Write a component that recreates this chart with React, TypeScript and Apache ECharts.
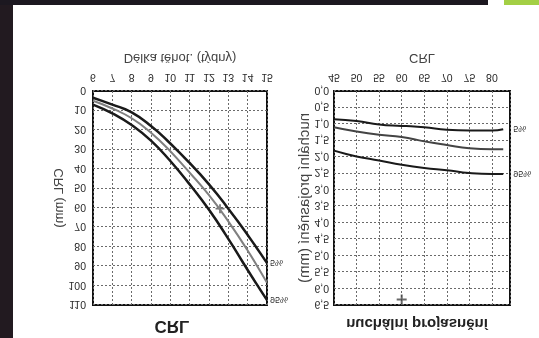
import React, { useEffect, useRef } from "react";
import * as echarts from "echarts";

// Left chart: CRL vs gestational age (weeks)
const weeks = [6, 7, 8, 9, 10, 11, 12, 13, 14, 15];
const crlP5 = [3.5, 7, 11, 18, 27, 37, 48, 60.5, 74, 88.5];
const crlP50 = [5, 9, 14, 21.5, 31, 42, 53.5, 67, 82, 98.5];
const crlP95 = [7, 11.5, 17.5, 25.5, 36, 48, 61, 76, 92, 107.5];
const crlMeasured = [[12.57, 60.5]];

// Right chart: nuchal translucency vs CRL
const crlValues = [45, 50, 55, 60, 65, 70, 75, 80, 82.5];
const ntP5 = [0.86, 0.91, 1.02, 1.06, 1.1, 1.18, 1.2, 1.2, 1.16];
const ntP50 = [1.1, 1.23, 1.33, 1.4, 1.53, 1.64, 1.74, 1.77, 1.77];
const ntP95 = [1.81, 1.99, 2.11, 2.24, 2.34, 2.41, 2.49, 2.52, 2.52];
const ntMeasured = [[60, 6.33]];

const FONT = "'Liberation Sans', Arial, sans-serif";
const zip = (xs: number[], ys: number[]) => xs.map((x, i) => [x, ys[i]]);
const PLUS = "path://M4,0H6V4H10V6H6V10H4V6H0V4H4Z";

export default function App() {
  const ref = useRef<HTMLDivElement>(null);
  useEffect(() => {
    if (!ref.current) return;
    const chart = echarts.init(ref.current, null, { renderer: "svg" });
    const split = { show: true, lineStyle: { color: "#6a6a6a", type: [2, 2] as any, width: 1 } };
    const lbl = { color: "#2a2a2a", fontSize: 10.5, fontFamily: FONT };
    const nameStyle = { color: "#444", fontSize: 13, fontFamily: FONT };
    const endLbl = (t: string) => ({
      show: true,
      formatter: t,
      fontSize: 9,
      color: "#333",
      fontFamily: FONT,
      distance: 3,
    });
    chart.setOption({
      animation: false,
      backgroundColor: "#ffffff",
      grid: [
        { left: 93, top: 33, width: 174, height: 214, show: true, borderColor: "#111", borderWidth: 2, backgroundColor: "transparent" },
        { left: 334, top: 33, width: 176, height: 214, show: true, borderColor: "#111", borderWidth: 2, backgroundColor: "transparent" },
      ],
      xAxis: [
        {
          gridIndex: 0, type: "value", min: 6, max: 15, interval: 1,
          axisLine: { show: false }, axisTick: { show: false },
          axisLabel: { ...lbl, margin: 7 }, splitLine: split,
          name: "Délka těhot. (týdny)", nameLocation: "middle", nameGap: 26, nameTextStyle: nameStyle,
        },
        {
          gridIndex: 1, type: "value", min: 45, max: 84, interval: 5,
          axisLine: { show: false }, axisTick: { show: false },
          axisLabel: { ...lbl, margin: 7, showMaxLabel: false, formatter: (v: number) => (v > 80 ? "" : String(v)) },
          splitLine: split,
          name: "CRL", nameLocation: "middle", nameGap: 26, nameTextStyle: nameStyle,
        },
      ],
      yAxis: [
        {
          gridIndex: 0, type: "value", min: 0, max: 110, interval: 10,
          axisLine: { show: false }, axisTick: { show: false },
          axisLabel: { ...lbl, margin: 7 }, splitLine: split,
          name: "CRL (mm)", nameLocation: "middle", nameGap: 27, nameTextStyle: nameStyle,
        },
        {
          gridIndex: 1, type: "value", min: 0, max: 6.5, interval: 0.5,
          axisLine: { show: false }, axisTick: { show: false },
          axisLabel: { ...lbl, margin: 5, formatter: (v: number) => v.toFixed(1).replace(".", ",") },
          splitLine: split,
          name: "nuchální projasnění (mm)", nameLocation: "middle", nameGap: 20,
          nameTextStyle: { ...nameStyle, fontSize: 15 },
        },
      ],
      series: [
        { type: "line", xAxisIndex: 0, yAxisIndex: 0, smooth: true, symbol: "none", data: zip(weeks, crlP5), lineStyle: { color: "#1a1a1a", width: 2.5 }, endLabel: endLbl("5%") },
        { type: "line", xAxisIndex: 0, yAxisIndex: 0, smooth: true, symbol: "none", data: zip(weeks, crlP50), lineStyle: { color: "#808080", width: 2 } },
        { type: "line", xAxisIndex: 0, yAxisIndex: 0, smooth: true, symbol: "none", data: zip(weeks, crlP95), lineStyle: { color: "#1a1a1a", width: 2.5 }, endLabel: endLbl("95%") },
        { type: "scatter", xAxisIndex: 0, yAxisIndex: 0, symbol: PLUS, symbolSize: 9, data: crlMeasured, itemStyle: { color: "#555" } },
        { type: "line", xAxisIndex: 1, yAxisIndex: 1, smooth: true, symbol: "none", data: zip(crlValues, ntP5), lineStyle: { color: "#1a1a1a", width: 2 }, endLabel: { ...endLbl("5%"), distance: 10 } },
        { type: "line", xAxisIndex: 1, yAxisIndex: 1, smooth: true, symbol: "none", data: zip(crlValues, ntP50), lineStyle: { color: "#444", width: 2 } },
        { type: "line", xAxisIndex: 1, yAxisIndex: 1, smooth: true, symbol: "none", data: zip(crlValues, ntP95), lineStyle: { color: "#1a1a1a", width: 2 }, endLabel: { ...endLbl("95%"), distance: 10 } },
        { type: "scatter", xAxisIndex: 1, yAxisIndex: 1, symbol: PLUS, symbolSize: 10, data: ntMeasured, itemStyle: { color: "#444" } },
      ],
      graphic: [
        { type: "rect", shape: { x: 0, y: 0, width: 13, height: 338 }, style: { fill: "#221a20" } },
        { type: "rect", shape: { x: 0, y: 333, width: 488, height: 5 }, style: { fill: "#1c1820" } },
        { type: "rect", shape: { x: 504, y: 333, width: 35, height: 5 }, style: { fill: "#a3cf45" } },
        { type: "text", x: 172, y: 11, style: { text: "CRL", align: "center", verticalAlign: "middle", font: `bold 17px ${FONT}`, fill: "#222" } },
        { type: "text", x: 417, y: 13, style: { text: "nuchální projasnění", align: "center", verticalAlign: "middle", font: `bold 15px ${FONT}`, fill: "#222" } },
      ],
    });
    return () => chart.dispose();
  }, []);
  return (
    <div
      ref={ref}
      style={{ position: "fixed", left: 0, top: 0, width: 539, height: 338, transform: "scaleY(-1)", background: "#fff" }}
    />
  );
}
